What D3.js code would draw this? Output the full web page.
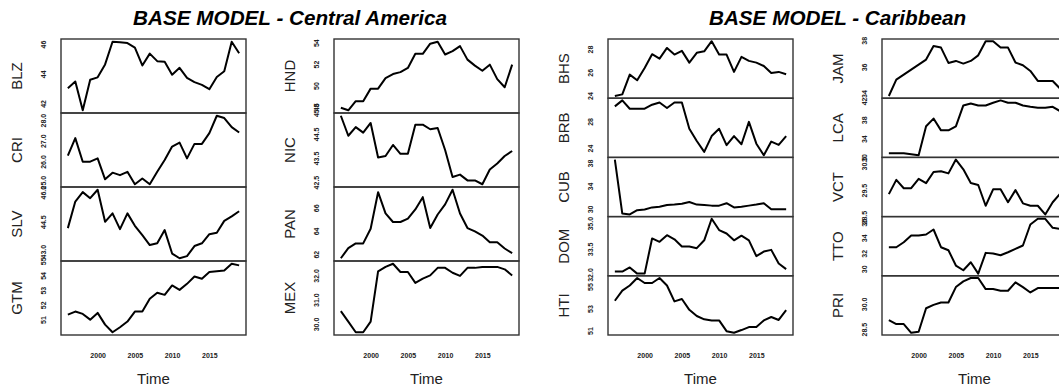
<!DOCTYPE html>
<html><head><meta charset="utf-8">
<script src="https://cdn.jsdelivr.net/npm/d3@7"></script>
<style>body{margin:0;background:#fff} svg{display:block}</style>
</head><body><svg id="c" width="1059" height="389"></svg>
<script>
const years = [1996,1997,1998,1999,2000,2001,2002,2003,2004,2005,2006,2007,2008,2009,2010,2011,2012,2013,2014,2015,2016,2017,2018,2019];

// Central America
const BLZ = [43.03,43.48,41.54,43.60,43.76,44.63,46.16,46.12,46.07,45.77,44.56,45.36,44.85,44.81,43.94,44.40,43.72,43.44,43.25,42.96,43.78,44.17,46.16,45.38];
const CRI = [26.28,27.13,25.99,25.99,26.15,25.14,25.46,25.34,25.50,24.90,25.18,24.90,25.50,26.07,26.72,26.91,26.15,26.85,26.85,27.37,28.21,28.10,27.66,27.40];
const SLV = [44.17,45.52,46.00,45.69,46.12,44.49,44.92,44.12,44.92,44.29,43.81,43.31,43.40,44.07,42.88,42.64,42.75,43.26,43.40,43.86,43.94,44.54,44.77,45.03];
const GTM = [51.33,51.54,51.38,50.99,51.45,50.65,50.13,50.47,50.86,51.54,51.54,52.41,52.82,52.68,53.32,53.02,53.43,53.93,53.78,54.23,54.28,54.34,54.80,54.69];
const HND = [47.92,47.69,48.54,48.54,49.71,49.71,50.69,51.07,51.25,51.64,52.96,52.96,53.91,54.09,52.90,53.21,53.68,52.42,51.86,51.38,51.95,50.60,49.84,51.95];
const NIC = [45.25,44.42,44.78,44.55,44.95,43.52,43.58,44.04,43.67,43.67,44.88,44.88,44.69,44.74,43.83,42.71,42.81,42.57,42.57,42.41,43.02,43.27,43.58,43.79];
const PAN = [61.65,62.52,62.93,62.93,64.19,67.34,65.51,64.77,64.77,65.06,65.85,66.91,64.25,65.42,66.29,67.55,65.51,64.25,63.96,63.60,63.02,63.02,62.49,62.09];
const MEX = [30.53,30.10,29.66,29.66,30.10,32.17,32.35,32.48,32.14,32.14,31.69,31.87,32.00,32.31,32.31,32.11,31.98,32.31,32.31,32.35,32.35,32.35,32.25,32.00];

// Caribbean
const BHS = [23.96,24.10,25.80,25.31,26.37,27.55,27.17,28.09,27.52,27.84,26.83,27.67,27.80,28.67,27.52,27.52,26.03,27.32,26.98,26.83,26.54,25.94,26.03,25.83];
const BRB = [30.25,31.15,29.90,29.90,29.90,30.50,30.84,30.01,30.84,30.84,26.89,25.06,23.43,25.80,26.89,24.43,25.80,24.57,27.93,24.66,22.93,24.97,24.47,25.80];
const CUB = [38.60,29.20,29.05,29.78,29.90,30.27,30.40,30.70,30.76,30.89,31.20,30.76,30.70,30.58,30.58,31.00,30.27,30.40,30.58,30.76,31.00,29.96,29.96,29.96];
const DOM = [32.17,32.17,32.41,32.05,32.05,34.11,33.91,34.30,34.06,33.64,33.64,33.54,34.00,35.26,34.60,34.40,34.00,34.27,34.00,33.07,33.34,33.44,32.64,32.31];
const HTI = [53.71,54.63,55.10,55.78,55.32,55.32,55.78,55.10,53.65,53.87,52.88,52.32,52.02,51.92,51.92,50.94,50.79,51.04,51.31,51.31,51.92,52.23,51.96,52.85];
const JAM = [33.82,35.05,35.42,35.80,36.17,36.55,37.57,37.45,36.30,36.45,36.25,36.45,36.87,37.93,37.93,37.45,37.45,36.33,36.13,35.70,34.95,34.95,34.95,34.37];
const LCA = [30.93,30.93,30.93,30.72,30.50,36.62,38.26,35.76,35.76,36.62,41.04,41.47,41.04,41.04,41.62,42.11,41.62,41.62,41.04,40.76,40.55,40.55,40.76,39.82];
const VCT = [29.35,29.88,29.57,29.57,29.92,29.76,30.17,30.20,30.12,30.63,30.27,29.76,29.69,28.92,29.53,29.53,29.05,29.50,29.01,28.92,28.92,28.60,29.05,29.37];
const TTO = [32.79,32.79,33.43,34.30,34.30,34.43,35.07,32.79,32.40,30.43,29.82,30.85,29.39,32.06,31.97,31.75,32.14,32.58,33.01,35.72,36.45,36.45,35.29,35.16];
const PRI = [29.04,28.80,28.80,28.28,28.34,29.74,29.94,30.08,30.08,31.00,31.34,31.54,31.54,30.88,30.88,30.78,30.78,31.28,31.00,30.68,30.94,30.94,30.94,30.94];

// Y tick labels per panel
const ticksBLZ = ["42","44","46"];
const ticksCRI = ["25.0","26.0","27.0","28.0"];
const ticksSLV = ["43.0","44.5","46.0"];
const ticksGTM = ["51","52","53","54","55"];
const ticksHND = ["48","50","52","54"];
const ticksNIC = ["42.5","43.5","44.5","45.5"];
const ticksPAN = ["62","64","66"];
const ticksMEX = ["30.0","31.0","32.0"];
const ticksBHS = ["24","26","28"];
const ticksBRB = ["24","28"];
const ticksCUB = ["30","34","38"];
const ticksDOM = ["32.0","33.5","35.0"];
const ticksHTI = ["51","53","55"];
const ticksJAM = ["34","36","38"];
const ticksLCA = ["30","34","38","42"];
const ticksVCT = ["28.5","29.5","30.5"];
const ticksTTO = ["30","32","34","36"];
const ticksPRI = ["28.5","30.0"];

const xTickLabels = ["2000","2005","2010","2015"];
const titles = ["BASE MODEL - Central America","BASE MODEL - Caribbean"];
const columnsCA = [["BLZ","CRI","SLV","GTM"],["HND","NIC","PAN","MEX"]];
const columnsCB = [["BHS","BRB","CUB","DOM","HTI"],["JAM","LCA","VCT","TTO","PRI"]];

const series = {BLZ,CRI,SLV,GTM,HND,NIC,PAN,MEX,BHS,BRB,CUB,DOM,HTI,JAM,LCA,VCT,TTO,PRI};
const ticks = {BLZ:ticksBLZ,CRI:ticksCRI,SLV:ticksSLV,GTM:ticksGTM,HND:ticksHND,NIC:ticksNIC,PAN:ticksPAN,MEX:ticksMEX,
  BHS:ticksBHS,BRB:ticksBRB,CUB:ticksCUB,DOM:ticksDOM,HTI:ticksHTI,JAM:ticksJAM,LCA:ticksLCA,VCT:ticksVCT,TTO:ticksTTO,PRI:ticksPRI};

const groups = [
  {title: titles[0], columns: columnsCA, lefts: [61, 334]},
  {title: titles[1], columns: columnsCB, lefts: [608, 882]}
];

const svg = d3.select("#c");
const FONT = "'Liberation Sans', Arial, Helvetica, sans-serif";
const panelW = 185, plotTop = 39, plotBottom = 335;

function padExtent(arr) {
  const [a, b] = d3.extent(arr);
  const p = (b - a) * 0.04;
  return [a - p, b + p];
}

const x = d3.scaleLinear().domain(padExtent(years)).range([0, panelW]);

groups.forEach(g => {
  const gl = g.lefts[0], gr = g.lefts[1] + panelW;
  svg.append("text")
    .attr("x", (gl + gr) / 2).attr("y", 25)
    .attr("text-anchor", "middle")
    .attr("font-family", FONT).attr("font-size", 20.7)
    .attr("font-weight", "bold").attr("font-style", "italic")
    .attr("fill", "#000")
    .text(g.title);

  g.columns.forEach((names, ci) => {
    const left = g.lefts[ci];
    const h = (plotBottom - plotTop) / names.length;
    const col = svg.append("g").attr("transform", `translate(${left},0)`);

    names.forEach((name, i) => {
      const y0 = plotTop + i * h;
      const y = d3.scaleLinear().domain(padExtent(series[name])).range([y0 + h, y0]);
      const line = d3.line().x((d, k) => x(years[k])).y(d => y(d));

      col.append("path")
        .datum(series[name])
        .attr("d", line)
        .attr("fill", "none")
        .attr("stroke", "#000")
        .attr("stroke-width", 2)
        .attr("stroke-linejoin", "round");

      const ax = col.append("g")
        .call(d3.axisLeft(y).tickValues(ticks[name].map(Number))
          .tickFormat((d, k) => ticks[name][k]).tickSize(0));
      ax.select(".domain").remove();
      ax.selectAll("text")
        .attr("transform", "rotate(-90)")
        .attr("x", 0).attr("y", -17).attr("dy", "0.35em")
        .attr("text-anchor", "middle")
        .attr("font-family", FONT).attr("font-size", 7)
        .attr("font-weight", "bold")
        .attr("fill", "#222");

      col.append("text")
        .attr("transform", `translate(-44,${y0 + h / 2}) rotate(-90)`)
        .attr("dy", "0.35em")
        .attr("text-anchor", "middle")
        .attr("font-family", FONT).attr("font-size", 15)
        .attr("fill", "#222")
        .text(name);

      col.append("rect")
        .attr("x", 0).attr("y", y0).attr("width", panelW).attr("height", h)
        .attr("fill", "none").attr("stroke", "#333").attr("stroke-width", 1.4);
    });

    const xa = col.append("g").attr("transform", `translate(0,${plotBottom})`)
      .call(d3.axisBottom(x).tickValues(xTickLabels.map(Number))
        .tickFormat((d, k) => xTickLabels[k]).tickSize(0));
    xa.select(".domain").remove();
    xa.selectAll("text")
      .attr("y", 21).attr("dy", "0.35em")
      .attr("font-family", FONT).attr("font-size", 7)
      .attr("font-weight", "bold").attr("fill", "#222");

    col.append("text")
      .attr("x", panelW / 2).attr("y", 384)
      .attr("text-anchor", "middle")
      .attr("font-family", FONT).attr("font-size", 15)
      .attr("fill", "#222")
      .text("Time");
  });
});
</script>
</body></html>
